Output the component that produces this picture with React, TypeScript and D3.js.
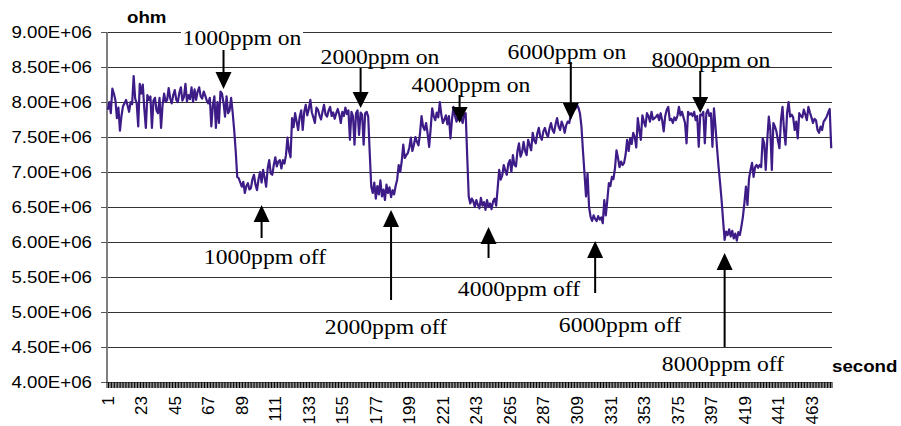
import React from "react";
import * as d3 from "d3";

// sensor resistance, in units of 1E+06 ohm, one value per second (1..476)
const resistance = [
  7.89, 8.00, 7.84, 8.19, 8.12, 8.03, 7.77, 7.92, 7.59, 7.80,
  7.94, 7.98, 8.03, 7.95, 7.86, 8.00, 7.97, 8.37, 8.05, 7.98,
  7.65, 8.26, 8.12, 8.25, 7.90, 7.63, 8.10, 8.03, 8.08, 7.63,
  8.02, 8.06, 7.88, 7.84, 8.06, 7.63, 7.96, 8.12, 8.00, 8.03,
  8.20, 8.05, 7.98, 8.10, 8.17, 8.03, 8.00, 8.13, 8.21, 8.02,
  8.07, 8.26, 8.01, 8.10, 8.04, 8.21, 8.00, 8.18, 8.03, 8.15,
  8.21, 8.08, 8.05, 8.15, 8.09, 8.02, 7.98, 8.06, 7.65, 7.95,
  8.08, 7.63, 8.00, 7.70, 8.15, 8.12, 7.99, 7.79, 8.08, 7.84,
  7.88, 8.06, 7.85, 7.60, 7.30, 6.93, 6.91, 6.85, 6.79, 6.86,
  6.70, 6.80, 6.84, 6.75, 6.77, 6.90, 6.96, 6.82, 6.74, 6.90,
  7.00, 6.85, 7.03, 6.92, 6.79, 7.05, 7.17, 6.98, 6.96, 7.10,
  7.21, 7.08, 7.15, 7.17, 7.05, 7.17, 7.12, 7.24, 7.49, 7.30,
  7.21, 7.77, 7.64, 7.84, 7.72, 7.60, 7.79, 7.88, 7.60, 7.86,
  7.96, 7.81, 7.90, 8.03, 7.85, 7.78, 7.70, 7.92, 7.89, 7.81,
  7.75, 7.86, 7.96, 7.82, 7.79, 7.88, 7.93, 7.80, 7.85, 7.76,
  7.84, 7.90, 7.82, 7.70, 7.86, 7.80, 7.92, 7.83, 7.88, 7.46,
  7.86, 7.80, 7.39, 7.84, 7.88, 7.53, 7.85, 7.82, 7.39, 7.84,
  7.86, 7.79, 7.27, 6.79, 6.70, 6.85, 6.62, 6.80, 6.68, 6.88,
  6.65, 6.75, 6.60, 6.82, 6.70, 6.78, 6.64, 6.74, 6.68, 6.80,
  6.89, 7.10, 7.00, 7.15, 7.39, 7.20, 7.24, 7.27, 7.35, 7.49,
  7.30, 7.39, 7.50, 7.43, 7.38, 7.55, 7.80, 7.65, 7.60, 7.70,
  7.55, 7.36, 7.62, 7.91, 7.80, 7.74, 7.85, 7.78, 8.00, 7.82,
  7.70, 7.75, 7.81, 7.68, 7.80, 7.48, 7.75, 7.93, 7.80, 7.72,
  7.80, 7.74, 7.77, 7.70, 7.82, 7.84, 7.22, 6.65, 6.55, 6.62,
  6.58, 6.50, 6.60, 6.53, 6.48, 6.63, 6.52, 6.57, 6.46, 6.60,
  6.50, 6.55, 6.47, 6.58, 6.62, 6.52, 6.77, 7.03, 6.89, 6.95,
  7.10, 7.02, 6.96, 7.12, 7.17, 7.00, 7.24, 7.10, 7.08, 7.30,
  7.41, 7.22, 7.28, 7.43, 7.30, 7.24, 7.46, 7.38, 7.31, 7.56,
  7.45, 7.41, 7.55, 7.63, 7.50, 7.46, 7.58, 7.63, 7.55, 7.50,
  7.62, 7.70, 7.60, 7.56, 7.68, 7.77, 7.65, 7.60, 7.72, 7.66,
  7.56, 7.67, 7.72, 7.70, 7.81, 7.85, 7.89, 7.90, 7.96, 7.92,
  7.84, 7.65, 7.30, 6.98, 6.65, 6.98, 6.50, 6.36, 6.30, 6.38,
  6.33, 6.30, 6.37, 6.32, 6.35, 6.27, 6.60, 6.38, 6.60, 6.84,
  6.80, 6.93, 6.90, 7.05, 7.31, 7.20, 7.07, 7.15, 7.10, 7.13,
  7.25, 7.46, 7.30, 7.48, 7.40, 7.56, 7.50, 7.35, 7.77, 7.60,
  7.46, 7.81, 7.72, 7.65, 7.84, 7.80, 7.72, 7.86, 7.75, 7.77,
  7.79, 7.82, 7.74, 7.84, 7.74, 7.58, 7.80, 7.89, 7.93, 7.74,
  7.76, 7.70, 7.78, 7.74, 7.80, 7.93, 7.81, 7.86, 7.78, 7.70,
  7.41, 7.86, 7.82, 7.84, 7.80, 7.86, 7.74, 7.80, 7.36, 7.82,
  7.81, 7.86, 7.41, 7.84, 7.89, 7.80, 7.84, 7.36, 7.91, 7.65,
  7.35, 7.08, 6.85, 6.60, 6.31, 6.03, 6.15, 6.10, 6.18, 6.08,
  6.16, 6.05, 6.12, 6.02, 6.14, 6.10, 6.22, 6.36, 6.56, 6.79,
  6.53, 6.90, 7.03, 7.13, 6.93, 7.07, 7.10, 7.06, 7.10, 7.07,
  7.48, 7.41, 7.03, 7.46, 7.79, 7.60, 7.03, 7.70, 7.65, 7.58,
  7.45, 7.34, 7.74, 7.93, 7.60, 7.39, 7.84, 8.00, 7.79, 7.82,
  7.78, 7.60, 7.72, 7.48, 7.84, 7.80, 7.78, 7.89, 7.82, 7.74,
  7.93, 7.85, 7.78, 7.70, 7.76, 7.74, 7.60, 7.56, 7.65, 7.60,
  7.72, 7.75, 7.79, 7.85, 7.90, 7.34,
];

const xTickLabels = ["1", "23", "45", "67", "89", "111", "133", "155", "177", "199", "221",
  "243", "265", "287", "309", "331", "353", "375", "397", "419", "441", "463"];

const yTicks = [4.0, 4.5, 5.0, 5.5, 6.0, 6.5, 7.0, 7.5, 8.0, 8.5, 9.0];
const yTickLabels = ["4.00E+06", "4.50E+06", "5.00E+06", "5.50E+06", "6.00E+06", "6.50E+06",
  "7.00E+06", "7.50E+06", "8.00E+06", "8.50E+06", "9.00E+06"];

const noteLabels = ["1000ppm on", "2000ppm on", "4000ppm on", "6000ppm on", "8000ppm on",
  "1000ppm off", "2000ppm off", "4000ppm off", "6000ppm off", "8000ppm off"];
const noteSeconds = [77, 167, 232, 305, 390, 102, 187, 251, 321, 406];

const W = 901;
const H = 426;
const left = 107, right = 832, top = 32, bottom = 382;
const sans = "'Liberation Sans', Arial, sans-serif";
const serif = "'Liberation Serif', 'Times New Roman', serif";
const lineColor = "#3d1c87";

// text box position for each note: [text center x, baseline, a, b, c]
// "on" notes point down: line a->b, head b->c ; "off" notes point up: head a->b, line b->c
const noteLayout = [
  [242, 45, 50, 72, 89],
  [380, 64, 68, 92, 108],
  [471, 92, 95, 107, 123],
  [567, 59, 62, 103, 120],
  [711, 67, 71, 97, 113],
  [265, 264, 205, 222, 238],
  [386, 334, 210, 227, 300],
  [519, 296, 227, 244, 258],
  [620, 332, 241, 258, 293],
  [723, 371, 253, 270, 347],
];

const HText = ({ x, y, anchor = "start", size, family, weight = "normal", children }: any) => (
  <text
    transform={`translate(${x},${y}) scale(1.1,1)`}
    textAnchor={anchor}
    fontSize={size}
    fontFamily={family}
    fontWeight={weight}
    fill="#000"
  >
    {children}
  </text>
);

export default function App() {
  const seconds = resistance.map((_, i) => i + 1);

  const x = d3.scaleBand<number>().domain(seconds).range([left, right]).padding(0);
  const y = d3.scaleLinear().domain([4, 9]).range([bottom, top]);
  const bw = x.bandwidth();
  const cx = (s: number) => (x(s) as number) + bw / 2;

  const line = d3
    .line<number>()
    .x((_, i) => cx(seconds[i]))
    .y((d) => y(d));

  return (
    <svg width={W} height={H} style={{ position: "absolute", left: 0, top: 0, background: "#fff" }}>
      {/* horizontal gridlines */}
      {yTicks.map((t, i) => (
        <line
          key={"g" + i}
          x1={left}
          x2={right}
          y1={Math.round(y(t)) + 0.5}
          y2={Math.round(y(t)) + 0.5}
          stroke={t === 4 ? "#808080" : "#333"}
          strokeWidth={1}
          shapeRendering="crispEdges"
        />
      ))}

      {/* y axis */}
      <line x1={left} x2={left} y1={top} y2={bottom + 1} stroke="#808080" strokeWidth={2} />
      {yTicks.map((t, i) => (
        <line key={"yt" + i} x1={left - 6} x2={left} y1={Math.round(y(t)) + 0.5} y2={Math.round(y(t)) + 0.5}
          stroke="#555" shapeRendering="crispEdges" />
      ))}
      {yTicks.map((t, i) => (
        <HText key={"yl" + i} x={92} y={y(t) + 6} anchor="end" size={17} family={sans}>
          {yTickLabels[i]}
        </HText>
      ))}

      {/* x axis ticks, one per category */}
      {[...seconds, seconds.length + 1].map((s) => {
        const px = s <= seconds.length ? (x(s) as number) : right;
        return <line key={"xt" + s} x1={px} x2={px} y1={bottom} y2={bottom + 6} stroke="#000" strokeWidth={1} />;
      })}
      {xTickLabels.map((lab) => (
        <text
          key={"xl" + lab}
          transform={`translate(${cx(+lab)},396) rotate(-90)`}
          textAnchor="end"
          dy="0.36em"
          fontSize={17}
          fontFamily={sans}
        >
          {lab}
        </text>
      ))}

      {/* axis titles */}
      <HText x={127} y={23} size={17} family={sans} weight="bold">ohm</HText>
      <HText x={832} y={372} size={17} family={sans} weight="bold">second</HText>

      {/* data */}
      <path d={line(resistance) || ""} fill="none" stroke={lineColor} strokeWidth={2.2} strokeLinejoin="round" />

      {/* annotations */}
      {noteLabels.map((lab, i) => {
        const [tx, ty, a, b, c] = noteLayout[i];
        const ax = cx(noteSeconds[i]);
        const down = lab.endsWith("on");
        const w = down ? 122 : 130;
        return (
          <g key={"n" + i}>
            <rect x={tx - w / 2} y={ty - 16} width={w} height={15.5} fill="#fff" />
            <HText x={tx} y={ty} anchor="middle" size={21.5} family={serif}>{lab}</HText>
            {down ? (
              <>
                <line x1={ax} x2={ax} y1={a} y2={b} stroke="#000" strokeWidth={2} />
                <path d={`M${ax - 8},${b} L${ax + 8},${b} L${ax},${c} Z`} fill="#000" />
              </>
            ) : (
              <>
                <path d={`M${ax - 8},${b} L${ax + 8},${b} L${ax},${a} Z`} fill="#000" />
                <line x1={ax} x2={ax} y1={b} y2={c} stroke="#000" strokeWidth={2} />
              </>
            )}
          </g>
        );
      })}
    </svg>
  );
}
